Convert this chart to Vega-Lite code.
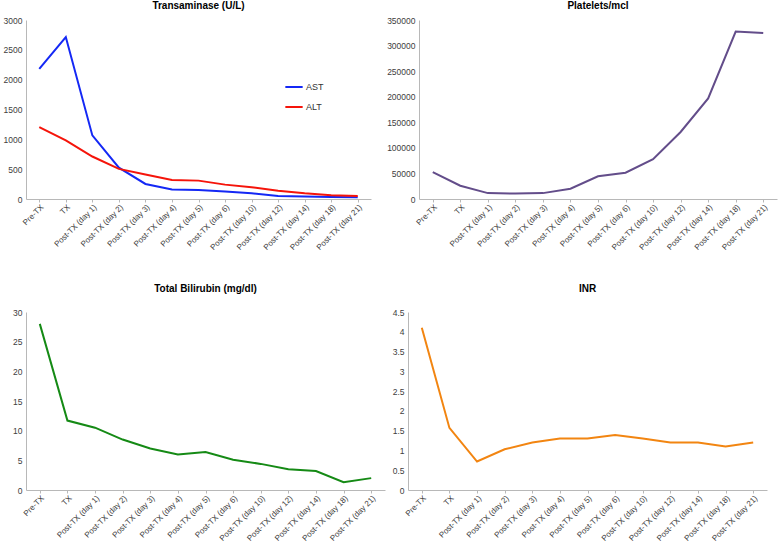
{
  "$schema": "https://vega.github.io/schema/vega-lite/v6.json",
  "padding": {"left": 3, "top": 1, "right": 2, "bottom": 0},
  "background": "white",
  "config": {
    "font": "Liberation Sans",
    "view": {"stroke": null},
    "axis": {"labelFont": "Liberation Sans", "labelFontSize": 8.5, "labelColor": "#404040", "domainColor": "#b8b8b8", "tickColor": "#b8b8b8", "grid": false, "title": null},
    "axisY": {"ticks": false, "labelPadding": 4},
    "axisX": {"tickSize": 3, "labelAngle": -45, "labelPadding": 1, "labelFontSize": 8},
    "title": {"font": "Liberation Sans", "fontSize": 10, "fontWeight": "bold", "color": "#000000", "offset": 5},
    "line": {"strokeWidth": 2}
  },
  "datasets": {
    "tr": [
      {"t": "Pre-TX", "s": "AST", "v": 2180},
      {"t": "TX", "s": "AST", "v": 2715},
      {"t": "Post-TX (day 1)", "s": "AST", "v": 1066},
      {"t": "Post-TX (day 2)", "s": "AST", "v": 525},
      {"t": "Post-TX (day 3)", "s": "AST", "v": 252},
      {"t": "Post-TX (day 4)", "s": "AST", "v": 160},
      {"t": "Post-TX (day 5)", "s": "AST", "v": 152},
      {"t": "Post-TX (day 6)", "s": "AST", "v": 125},
      {"t": "Post-TX (day 10)", "s": "AST", "v": 95},
      {"t": "Post-TX (day 12)", "s": "AST", "v": 52},
      {"t": "Post-TX (day 14)", "s": "AST", "v": 42},
      {"t": "Post-TX (day 18)", "s": "AST", "v": 32},
      {"t": "Post-TX (day 21)", "s": "AST", "v": 30},
      {"t": "Pre-TX", "s": "ALT", "v": 1206},
      {"t": "TX", "s": "ALT", "v": 981},
      {"t": "Post-TX (day 1)", "s": "ALT", "v": 712},
      {"t": "Post-TX (day 2)", "s": "ALT", "v": 505},
      {"t": "Post-TX (day 3)", "s": "ALT", "v": 409},
      {"t": "Post-TX (day 4)", "s": "ALT", "v": 320},
      {"t": "Post-TX (day 5)", "s": "ALT", "v": 308},
      {"t": "Post-TX (day 6)", "s": "ALT", "v": 241},
      {"t": "Post-TX (day 10)", "s": "ALT", "v": 196},
      {"t": "Post-TX (day 12)", "s": "ALT", "v": 140},
      {"t": "Post-TX (day 14)", "s": "ALT", "v": 95},
      {"t": "Post-TX (day 18)", "s": "ALT", "v": 62},
      {"t": "Post-TX (day 21)", "s": "ALT", "v": 50}
    ],
    "pl": [
      {"t": "Pre-TX", "v": 52500},
      {"t": "TX", "v": 26000},
      {"t": "Post-TX (day 1)", "v": 11500},
      {"t": "Post-TX (day 2)", "v": 10800},
      {"t": "Post-TX (day 3)", "v": 11500},
      {"t": "Post-TX (day 4)", "v": 20000},
      {"t": "Post-TX (day 5)", "v": 44500},
      {"t": "Post-TX (day 6)", "v": 51500},
      {"t": "Post-TX (day 10)", "v": 78000},
      {"t": "Post-TX (day 12)", "v": 131000},
      {"t": "Post-TX (day 14)", "v": 196500},
      {"t": "Post-TX (day 18)", "v": 327500},
      {"t": "Post-TX (day 21)", "v": 324500}
    ],
    "bi": [
      {"t": "Pre-TX", "v": 28.0},
      {"t": "TX", "v": 11.7},
      {"t": "Post-TX (day 1)", "v": 10.5},
      {"t": "Post-TX (day 2)", "v": 8.5},
      {"t": "Post-TX (day 3)", "v": 7.0},
      {"t": "Post-TX (day 4)", "v": 6.0},
      {"t": "Post-TX (day 5)", "v": 6.4},
      {"t": "Post-TX (day 6)", "v": 5.1},
      {"t": "Post-TX (day 10)", "v": 4.4},
      {"t": "Post-TX (day 12)", "v": 3.5},
      {"t": "Post-TX (day 14)", "v": 3.2},
      {"t": "Post-TX (day 18)", "v": 1.3},
      {"t": "Post-TX (day 21)", "v": 2.0}
    ],
    "inr": [
      {"t": "Pre-TX", "v": 4.1},
      {"t": "TX", "v": 1.57},
      {"t": "Post-TX (day 1)", "v": 0.72},
      {"t": "Post-TX (day 2)", "v": 1.03},
      {"t": "Post-TX (day 3)", "v": 1.2},
      {"t": "Post-TX (day 4)", "v": 1.3},
      {"t": "Post-TX (day 5)", "v": 1.3},
      {"t": "Post-TX (day 6)", "v": 1.39},
      {"t": "Post-TX (day 10)", "v": 1.3},
      {"t": "Post-TX (day 12)", "v": 1.2},
      {"t": "Post-TX (day 14)", "v": 1.2},
      {"t": "Post-TX (day 18)", "v": 1.1},
      {"t": "Post-TX (day 21)", "v": 1.2}
    ]
  },
  "spacing": 32,
  "vconcat": [
    {
      "bounds": "flush",
      "spacing": 48,
      "hconcat": [
        {
          "title": "Transaminase (U/L)",
          "width": 345, "height": 179,
          "data": {"name": "tr"},
          "mark": {"type": "line"},
          "encoding": {
            "x": {"field": "t", "type": "nominal", "sort": ["Pre-TX","TX","Post-TX (day 1)","Post-TX (day 2)","Post-TX (day 3)","Post-TX (day 4)","Post-TX (day 5)","Post-TX (day 6)","Post-TX (day 10)","Post-TX (day 12)","Post-TX (day 14)","Post-TX (day 18)","Post-TX (day 21)"], "scale": {"type": "point", "padding": 0.5}},
            "y": {"field": "v", "type": "quantitative", "scale": {"domain": [0, 3000], "nice": false}, "axis": {"values": [0, 500, 1000, 1500, 2000, 2500, 3000], "format": "d"}},
            "color": {"field": "s", "type": "nominal", "sort": ["AST", "ALT"], "scale": {"domain": ["AST", "ALT"], "range": ["#1428f5", "#f5140a"]},
              "legend": {"title": null, "orient": "none", "legendX": 258, "legendY": 57, "symbolType": "stroke", "symbolStrokeWidth": 2, "symbolSize": 300, "labelFontSize": 9, "labelColor": "#333333", "rowPadding": 5, "labelOffset": 2}}
          }
        },
        {
          "title": {"text": "Platelets/mcl", "offset": 5},
          "width": 358, "height": 179,
          "data": {"name": "pl"},
          "mark": {"type": "line", "color": "#634d8a"},
          "encoding": {
            "x": {"field": "t", "type": "nominal", "sort": ["Pre-TX","TX","Post-TX (day 1)","Post-TX (day 2)","Post-TX (day 3)","Post-TX (day 4)","Post-TX (day 5)","Post-TX (day 6)","Post-TX (day 10)","Post-TX (day 12)","Post-TX (day 14)","Post-TX (day 18)","Post-TX (day 21)"], "scale": {"type": "point", "padding": 0.5}},
            "y": {"field": "v", "type": "quantitative", "scale": {"domain": [0, 350000], "nice": false}, "axis": {"values": [0, 50000, 100000, 150000, 200000, 250000, 300000, 350000], "format": "d"}}
          }
        }
      ]
    },
    {
      "bounds": "flush",
      "spacing": 23,
      "hconcat": [
        {
          "title": {"text": "Total Bilirubin (mg/dl)", "offset": 14},
          "width": 359, "height": 178,
          "data": {"name": "bi"},
          "mark": {"type": "line", "color": "#158a15"},
          "encoding": {
            "x": {"field": "t", "type": "nominal", "sort": ["Pre-TX","TX","Post-TX (day 1)","Post-TX (day 2)","Post-TX (day 3)","Post-TX (day 4)","Post-TX (day 5)","Post-TX (day 6)","Post-TX (day 10)","Post-TX (day 12)","Post-TX (day 14)","Post-TX (day 18)","Post-TX (day 21)"], "scale": {"type": "point", "padding": 0.5}},
            "y": {"field": "v", "type": "quantitative", "scale": {"domain": [0, 30], "nice": false}, "axis": {"values": [0, 5, 10, 15, 20, 25, 30], "format": "d"}}
          }
        },
        {
          "title": {"text": "INR", "offset": 14},
          "width": 359, "height": 178,
          "data": {"name": "inr"},
          "mark": {"type": "line", "color": "#f28511"},
          "encoding": {
            "x": {"field": "t", "type": "nominal", "sort": ["Pre-TX","TX","Post-TX (day 1)","Post-TX (day 2)","Post-TX (day 3)","Post-TX (day 4)","Post-TX (day 5)","Post-TX (day 6)","Post-TX (day 10)","Post-TX (day 12)","Post-TX (day 14)","Post-TX (day 18)","Post-TX (day 21)"], "scale": {"type": "point", "padding": 0.5}},
            "y": {"field": "v", "type": "quantitative", "scale": {"domain": [0, 4.5], "nice": false}, "axis": {"values": [0, 0.5, 1, 1.5, 2, 2.5, 3, 3.5, 4, 4.5], "format": "~g"}}
          }
        }
      ]
    }
  ]
}
